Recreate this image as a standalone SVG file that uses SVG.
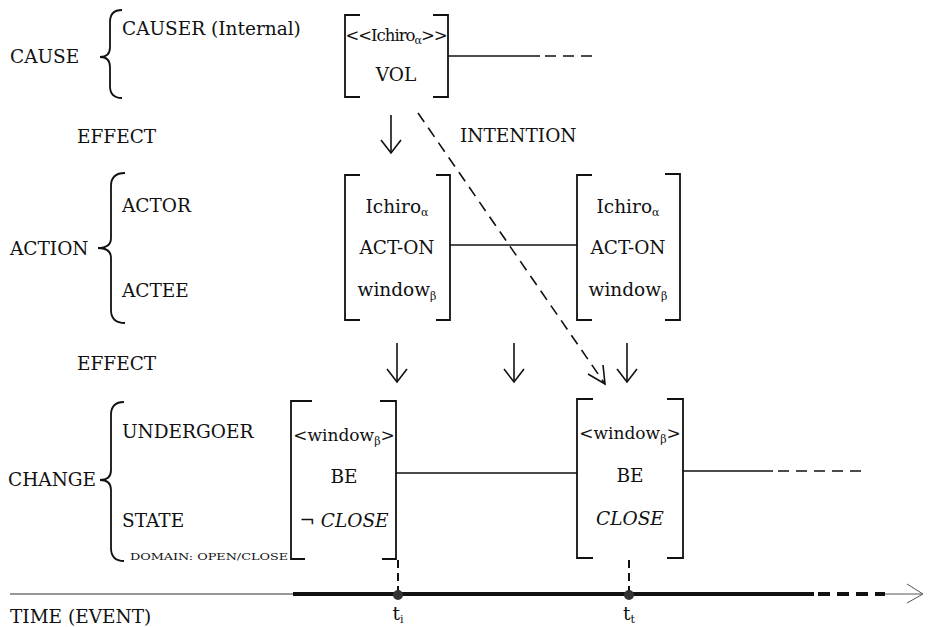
<svg xmlns="http://www.w3.org/2000/svg" width="928" height="627" viewBox="0 0 928 627">
<style>
text{font-family:"DejaVu Serif","Liberation Serif",serif;font-size:18.5px;fill:#111}
.c{text-anchor:middle}
.sub{font-size:11px}
.it{font-style:italic}
.sm{font-size:9px}
.nar{font-size:17px}
.br{fill:none;stroke:#111;stroke-width:1.8}
.brace{fill:none;stroke:#111;stroke-width:1.8}
.ln{fill:none;stroke:#111;stroke-width:1.6}
.ds{fill:none;stroke:#111;stroke-width:1.6;stroke-dasharray:11 7}
.ah{fill:none;stroke:#111;stroke-width:1.6}
</style>

<g id="labels">
<text x="10" y="63">CAUSE</text>
<text x="122" y="35">CAUSER (Internal)</text>
<text x="77" y="143">EFFECT</text>
<text x="460" y="142">INTENTION</text>
<text x="10" y="255">ACTION</text>
<text x="122" y="212">ACTOR</text>
<text x="122" y="297">ACTEE</text>
<text x="77" y="370">EFFECT</text>
<text x="8" y="486">CHANGE</text>
<text x="122" y="438">UNDERGOER</text>
<text x="122" y="527">STATE</text>
<text x="130" y="560" class="sm" textLength="158" lengthAdjust="spacingAndGlyphs">DOMAIN:  OPEN/CLOSE</text>
<text x="10" y="623">TIME (EVENT)</text>
</g>

<g id="braces">
<path class="brace" d="M122,10 Q110,10 110,22 L110,47 Q110,57 100,57 Q110,57 110,67 L110,86 Q110,98 122,98"/>
<path class="brace" d="M125,173 Q111,173 111,186 L111,238 Q111,248 98,248 Q111,248 111,258 L111,310 Q111,323 125,323"/>
<path class="brace" d="M124,402 Q111,402 111,415 L111,470 Q111,480 100,480 Q111,480 111,490 L111,548 Q111,561 124,561"/>
</g>

<g id="node-vol">
<path class="br" d="M360,15 H345 V97 H360"/>
<path class="br" d="M433,15 H448 V97 H433"/>
<text x="396" y="41" class="c" style="font-size:16.5px;letter-spacing:-1px">&lt;&lt;Ichiro<tspan class="sub" dy="3">α</tspan><tspan dy="-3">&gt;&gt;</tspan></text>
<text x="396" y="81" class="c">VOL</text>
</g>

<g id="node-act1">
<path class="br" d="M360,175 H345 V320 H360"/>
<path class="br" d="M436,175 H450 V320 H436"/>
<text x="397" y="213" class="c">Ichiro<tspan class="sub" dy="3">α</tspan></text>
<text x="397" y="254" class="c">ACT-ON</text>
<text x="397" y="296" class="c">window<tspan class="sub" dy="4">β</tspan></text>
</g>

<g id="node-act2">
<path class="br" d="M592,175 H577 V320 H592"/>
<path class="br" d="M665,174 H680 V320 H665"/>
<text x="628" y="213" class="c">Ichiro<tspan class="sub" dy="3">α</tspan></text>
<text x="628" y="254" class="c">ACT-ON</text>
<text x="628" y="296" class="c">window<tspan class="sub" dy="4">β</tspan></text>
</g>

<g id="node-be1">
<path class="br" d="M312,401 H291 V559 H305"/>
<path class="br" d="M380,401 H396 V559 H382"/>
<text x="344" y="441" class="c nar">&lt;window<tspan class="sub" dy="4">β</tspan><tspan dy="-4">&gt;</tspan></text>
<text x="344" y="483" class="c">BE</text>
<text x="344" y="527" class="c">¬ <tspan class="it">CLOSE</tspan></text>
</g>

<g id="node-be2">
<path class="br" d="M593,399 H577 V558 H593"/>
<path class="br" d="M667,399 H683 V558 H667"/>
<text x="630" y="439" class="c nar">&lt;window<tspan class="sub" dy="4">β</tspan><tspan dy="-4">&gt;</tspan></text>
<text x="630" y="482" class="c">BE</text>
<text x="630" y="525" class="c it">CLOSE</text>
</g>

<g id="connectors">
<line class="ln" x1="448" y1="56" x2="540" y2="56"/>
<line class="ds" x1="545" y1="56" x2="594" y2="56" stroke-dasharray="14 8"/>
<line class="ln" x1="450" y1="245" x2="577" y2="245"/>
<line class="ln" x1="396" y1="473" x2="577" y2="473"/>
<line class="ln" x1="683" y1="471" x2="773" y2="471"/>
<line class="ds" x1="778" y1="471" x2="862" y2="471" stroke-dasharray="16 8"/>
<line class="ln" x1="391" y1="115" x2="391" y2="153"/>
<path class="ah" d="M381,140 L391,153 L401,140"/>
<line class="ln" x1="397" y1="343" x2="397" y2="382"/>
<path class="ah" d="M387,369 L397,382 L407,369"/>
<line class="ln" x1="514" y1="343" x2="514" y2="382"/>
<path class="ah" d="M504,369 L514,382 L524,369"/>
<line class="ln" x1="627" y1="343" x2="627" y2="382"/>
<path class="ah" d="M617,369 L627,382 L637,369"/>
<line class="ds" x1="418" y1="113" x2="605" y2="384"/>
<path class="ah" d="M588,374 L605,384 L603,365"/>
<line x1="10" y1="594" x2="295" y2="594" stroke="#333" stroke-width="1"/>
<line x1="293" y1="594" x2="814" y2="594" stroke="#111" stroke-width="4"/>
<line x1="818" y1="594" x2="885" y2="594" stroke="#111" stroke-width="4" stroke-dasharray="12 7"/>
<line x1="885" y1="594" x2="922" y2="594" stroke="#555" stroke-width="1"/>
<path d="M907,584 L923,594 L907,603" fill="none" stroke="#555" stroke-width="1"/>
<line x1="398" y1="560" x2="398" y2="594" stroke="#111" stroke-width="2" stroke-dasharray="8 5"/>
<line x1="629" y1="560" x2="629" y2="594" stroke="#111" stroke-width="2" stroke-dasharray="8 5"/>
<circle cx="398" cy="595" r="5" fill="#333"/>
<circle cx="629" cy="595" r="5" fill="#333"/>
</g>

<g id="time-labels">
<text x="398" y="620" class="c">t<tspan class="sub" dy="3">i</tspan></text>
<text x="629" y="620" class="c">t<tspan class="sub" dy="3">t</tspan></text>
</g>
</svg>
